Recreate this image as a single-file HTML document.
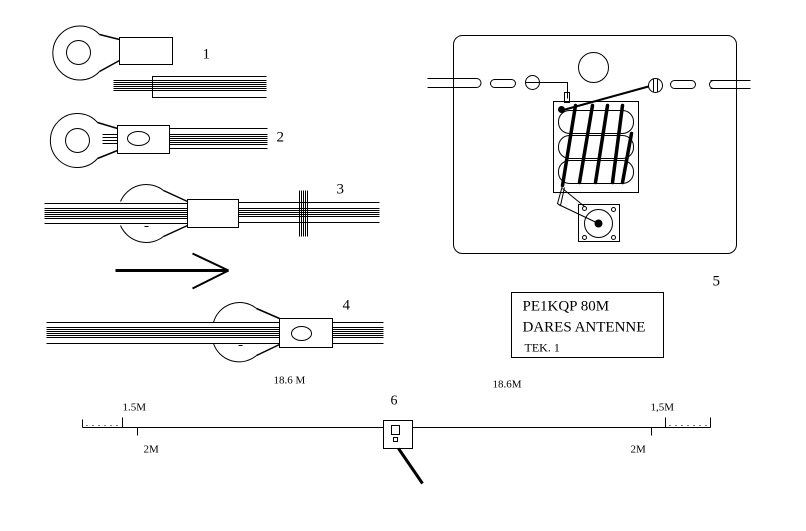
<!DOCTYPE html>
<html><head><meta charset="utf-8"><style>
html,body{margin:0;padding:0;background:#fff;}
svg{display:block;}
text{font-family:"Liberation Serif",serif;fill:#000;}
</style></head><body>
<svg width="806" height="531" viewBox="0 0 806 531" xmlns="http://www.w3.org/2000/svg" fill="none" stroke="#000" stroke-width="1">
<g transform="translate(0.5,0.5)">
<!-- Item 1 -->
<path d="M99,34 A27,27 0 1 0 99,71"/>
<circle cx="78" cy="52" r="12"/>
<line x1="99" y1="34" x2="119" y2="39" stroke-width="1.5"/>
<line x1="99" y1="71" x2="119" y2="60" stroke-width="1.5"/>
<rect x="119" y="37" width="53" height="27"/>
<g shape-rendering="crispEdges">
<line x1="113" y1="80" x2="266" y2="80"/><line x1="113" y1="82" x2="266" y2="82"/>
<line x1="113" y1="84" x2="266" y2="84"/><line x1="113" y1="86" x2="266" y2="86"/>
<line x1="113" y1="88" x2="266" y2="88"/><line x1="113" y1="90" x2="266" y2="90"/>
<path d="M266,76 H152 V97 H266"/>
</g>
<text x="202" y="58" font-size="15" stroke="none">1</text>
<!-- Item 2 -->
<path d="M97,122 A27,27 0 1 0 97,158"/>
<circle cx="77" cy="140" r="12"/>
<line x1="97" y1="122" x2="117" y2="128" stroke-width="1.5"/>
<line x1="97" y1="158" x2="117" y2="150" stroke-width="1.5"/>
<g shape-rendering="crispEdges">
<line x1="102" y1="134" x2="117" y2="134"/><line x1="102" y1="137" x2="117" y2="137"/>
<line x1="102" y1="140" x2="117" y2="140"/><line x1="102" y1="143" x2="117" y2="143"/>
<line x1="169" y1="128" x2="267" y2="128"/><line x1="169" y1="148" x2="267" y2="148"/>
<line x1="169" y1="134" x2="267" y2="134"/><line x1="169" y1="136" x2="267" y2="136"/>
<line x1="169" y1="138" x2="267" y2="138"/><line x1="169" y1="140" x2="267" y2="140"/>
<line x1="169" y1="142" x2="267" y2="142"/><line x1="169" y1="144" x2="267" y2="144"/>
<rect x="117" y="125" width="52" height="28"/>
</g>
<ellipse cx="138" cy="138" rx="11" ry="7"/>
<text x="276" y="141" font-size="15" stroke="none">2</text>
<!-- Item 3 -->
<path d="M120,201 A28,28 0 0 1 163,190"/>
<path d="M120,225 A28,28 0 0 0 163,236"/>
<line x1="163" y1="190" x2="187" y2="201" stroke-width="1.5"/>
<line x1="163" y1="236" x2="187" y2="225" stroke-width="1.5"/>
<g shape-rendering="crispEdges">
<line x1="44" y1="203" x2="187" y2="203"/><line x1="44" y1="223" x2="187" y2="223"/>
<line x1="44" y1="208" x2="187" y2="208"/><line x1="44" y1="210" x2="187" y2="210"/>
<line x1="44" y1="212" x2="187" y2="212"/><line x1="44" y1="214" x2="187" y2="214"/>
<line x1="44" y1="216" x2="187" y2="216"/><line x1="44" y1="218" x2="187" y2="218"/>
<line x1="238" y1="202" x2="379" y2="202"/><line x1="238" y1="222" x2="379" y2="222"/>
<line x1="238" y1="208" x2="379" y2="208"/><line x1="238" y1="210" x2="379" y2="210"/>
<line x1="238" y1="212" x2="379" y2="212"/><line x1="238" y1="214" x2="379" y2="214"/>
<line x1="238" y1="216" x2="379" y2="216"/>
<line x1="299" y1="190" x2="299" y2="236"/><line x1="301" y1="190" x2="301" y2="236"/>
<line x1="303" y1="190" x2="303" y2="236"/><line x1="305" y1="190" x2="305" y2="236"/>
<line x1="307" y1="190" x2="307" y2="236"/>
<rect x="187" y="199" width="51" height="28" fill="#fff"/>
<line x1="144" y1="226" x2="148" y2="226"/>
</g>
<text x="336" y="193" font-size="15" stroke="none">3</text>
<!-- Arrow -->
<line x1="115" y1="270" x2="228" y2="270" stroke-width="3"/>
<line x1="228" y1="270" x2="192" y2="253" stroke-width="2"/>
<line x1="228" y1="270" x2="192" y2="288" stroke-width="2"/>
<!-- Item 4 -->
<path d="M213,322 A27,27 0 0 1 256,308"/>
<path d="M213,343 A27,27 0 0 0 256,355"/>
<line x1="256" y1="308" x2="279" y2="318" stroke-width="1.5"/>
<line x1="256" y1="355" x2="279" y2="344" stroke-width="1.5"/>
<g shape-rendering="crispEdges">
<line x1="46" y1="322" x2="279" y2="322"/><line x1="46" y1="343" x2="279" y2="343"/>
<line x1="46" y1="327" x2="279" y2="327"/><line x1="46" y1="329" x2="279" y2="329"/>
<line x1="46" y1="331" x2="279" y2="331"/><line x1="46" y1="333" x2="279" y2="333"/>
<line x1="46" y1="335" x2="279" y2="335"/><line x1="46" y1="337" x2="279" y2="337"/>
<line x1="332" y1="322" x2="383" y2="322"/><line x1="332" y1="343" x2="383" y2="343"/>
<line x1="332" y1="327" x2="383" y2="327"/><line x1="332" y1="329" x2="383" y2="329"/>
<line x1="332" y1="331" x2="383" y2="331"/><line x1="332" y1="333" x2="383" y2="333"/>
<line x1="332" y1="335" x2="383" y2="335"/><line x1="332" y1="337" x2="383" y2="337"/>
<rect x="279" y="318" width="53" height="29"/>
<line x1="238" y1="345" x2="242" y2="345"/>
</g>
<ellipse cx="301" cy="333" rx="10" ry="7"/>
<text x="342" y="309" font-size="15" stroke="none">4</text>
<!-- Item 5 panel -->
<rect x="453" y="35" width="283" height="218" rx="9"/>
<circle cx="593" cy="67" r="15"/>
<path d="M427,78 H476 M427,87 H476"/>
<path d="M476,78 A4,4 0 1 1 476,87"/>
<rect x="490" y="79" width="25" height="8" rx="4"/>
<circle cx="532" cy="82" r="7"/><line x1="525" y1="82" x2="539" y2="82"/>
<path d="M539,82 H567 V98"/>
<rect x="564" y="92" width="5" height="10"/>
<circle cx="655" cy="85" r="7"/><line x1="653" y1="78" x2="653" y2="92"/><line x1="657" y1="78" x2="657" y2="92"/>
<rect x="670" y="80" width="25" height="8" rx="4"/>
<path d="M713,80 A4,4 0 1 0 713,88"/>
<path d="M710,80 H750 M710,88 H750"/>
<rect x="553" y="101" width="85" height="91"/>
<rect x="558" y="110" width="75" height="23" rx="11"/>
<rect x="558" y="135" width="75" height="23" rx="11"/>
<rect x="558" y="160" width="75" height="23" rx="11"/>
<line x1="561" y1="110" x2="648" y2="86" stroke-width="2"/>
<circle cx="561" cy="109" r="3" fill="#000"/>
<g stroke-width="3.5" stroke-linecap="round">
<line x1="575" y1="105" x2="562" y2="185"/>
<line x1="592" y1="105" x2="579" y2="182"/>
<line x1="607" y1="105" x2="595" y2="182"/>
<line x1="622" y1="105" x2="612" y2="182"/>
<line x1="631" y1="133" x2="622" y2="182"/>
</g>
<path d="M562,185 L557,203 L560,205 L564,187"/>
<line x1="562" y1="188" x2="584" y2="206"/>
<line x1="558" y1="204" x2="598" y2="223"/>
<rect x="578" y="204" width="41" height="37"/>
<circle cx="598" cy="223" r="14"/>
<circle cx="598" cy="223" r="3.5" fill="#000"/>
<circle cx="584" cy="208" r="2"/><circle cx="613" cy="209" r="2"/>
<circle cx="584" cy="237" r="2"/><circle cx="613" cy="237" r="2"/>
<text x="712" y="285" font-size="15" stroke="none">5</text>
<!-- Title box -->
<rect x="511" y="292" width="152" height="65"/>
<text x="522" y="310" font-size="15" stroke="none">PE1KQP 80M</text>
<text x="522" y="331" font-size="15" stroke="none">DARES ANTENNE</text>
<text x="524" y="351" font-size="12" stroke="none">TEK. 1</text>
<!-- Bottom scale -->
<text x="273" y="383" font-size="11" stroke="none">18.6 M</text>
<text x="492" y="387" font-size="11" stroke="none">18.6M</text>
<text x="122" y="410" font-size="11" stroke="none">1.5M</text>
<text x="650" y="410" font-size="11" stroke="none">1,5M</text>
<text x="390" y="404" font-size="14" stroke="none">6</text>
<text x="143" y="452" font-size="11" stroke="none">2M</text>
<text x="630" y="452" font-size="11" stroke="none">2M</text>
<g shape-rendering="crispEdges">
<line x1="82" y1="427" x2="710" y2="427"/>
<line x1="82" y1="419" x2="82" y2="427"/>
<line x1="122" y1="417" x2="122" y2="427"/>
<line x1="137" y1="427" x2="137" y2="435"/>
<line x1="710" y1="417" x2="710" y2="427"/>
<line x1="665" y1="417" x2="665" y2="427"/>
<line x1="651" y1="427" x2="651" y2="435"/>
<line x1="86" y1="425" x2="120" y2="425" stroke-dasharray="1,5"/>
<line x1="669" y1="425" x2="708" y2="425" stroke-dasharray="1,5"/>
<rect x="383" y="420" width="29" height="28" fill="#fff"/>
<rect x="391" y="425" width="8" height="9"/>
<rect x="393" y="437" width="4" height="4"/>
</g>
<line x1="398" y1="448" x2="422" y2="483" stroke-width="3"/>
</g>
</svg>
</body></html>
